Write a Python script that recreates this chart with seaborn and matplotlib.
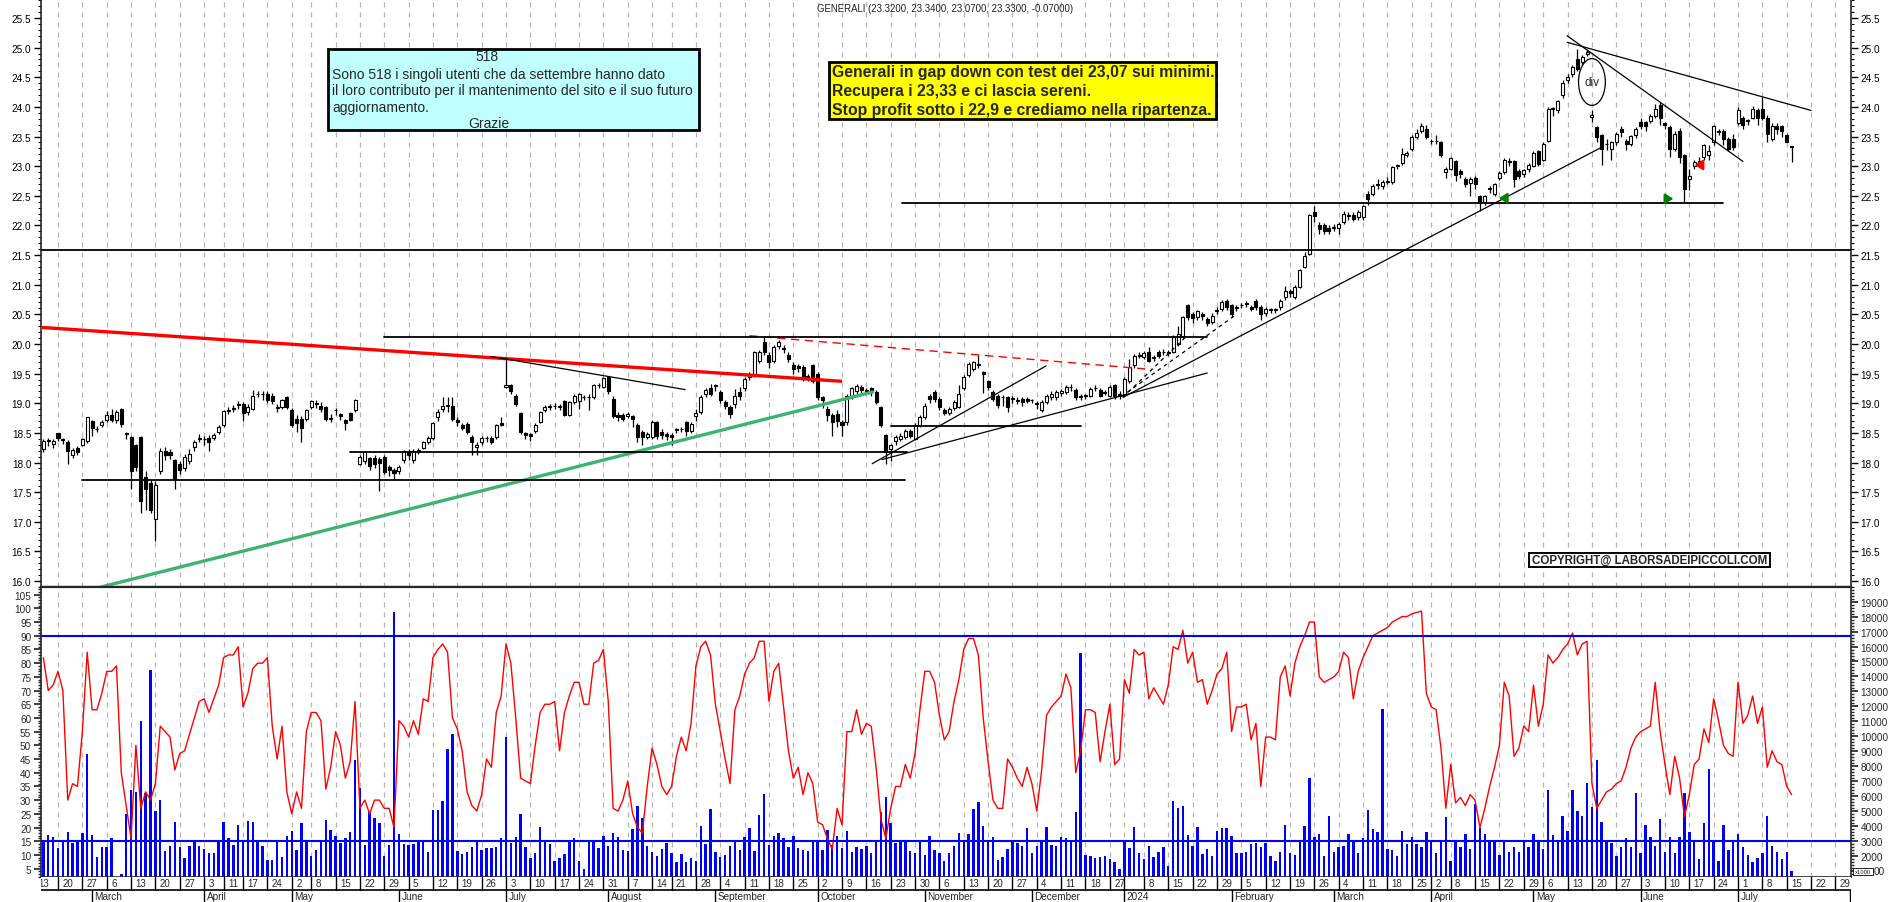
import numpy as np
import pandas as pd
import matplotlib
matplotlib.use("Agg")
import matplotlib.pyplot as plt
import seaborn as sns
from matplotlib.patches import Rectangle, Ellipse
from matplotlib import font_manager

# ---------------- data (daily sessions, first = 2023-02-15) ----------------
first_session = "2023-02-15"
holidays = ["2023-04-07", "2023-04-10", "2023-05-01", "2023-08-15", "2023-12-25",
            "2023-12-26", "2024-01-01", "2024-03-29", "2024-04-01", "2024-05-01"]

opens = [
 18.22, 18.37, 18.31, 18.49, 18.40, 18.35, 18.12, 18.25, 18.30, 18.36,
 18.70, 18.56, 18.63, 18.71, 18.80, 18.71, 18.90, 18.49, 18.43, 18.29,
 18.43, 17.75, 17.65, 17.05, 17.85, 18.20, 18.18, 18.04, 17.98, 17.90,
 18.02, 18.26, 18.40, 18.40, 18.41, 18.42, 18.52, 18.64, 18.87, 18.90,
 18.97, 18.98, 18.85, 18.91, 19.15, 19.16, 19.16, 19.13, 18.92, 18.94,
 19.10, 18.88, 18.74, 18.74, 18.74, 18.94, 19.00, 18.96, 18.94, 18.75,
 18.88, 18.82, 18.71, 18.84, 18.88, 17.98, 18.02, 18.07, 18.07, 18.06,
 18.10, 17.93, 17.88, 17.86, 18.04, 18.18, 18.04, 18.20, 18.25, 18.35,
 18.41, 18.76, 18.90, 18.96, 18.96, 18.72, 18.64, 18.65, 18.43, 18.26,
 18.35, 18.41, 18.42, 18.43, 18.66, 19.28, 19.30, 19.13, 18.83, 18.50,
 18.48, 18.54, 18.68, 18.88, 18.94, 18.95, 18.94, 19.03, 18.80, 19.02,
 19.03, 19.10, 19.10, 19.10, 19.30, 19.27, 19.44, 19.08, 18.80, 18.80,
 18.78, 18.78, 18.63, 18.51, 18.43, 18.43, 18.68, 18.52, 18.48, 18.47,
 18.55, 18.56, 18.68, 18.54, 18.78, 18.85, 19.16, 19.25, 19.29, 19.19,
 19.02, 18.93, 18.99, 19.19, 19.25, 19.44, 19.47, 19.72, 20.03, 19.81,
 19.72, 19.97, 19.93, 19.82, 19.64, 19.63, 19.61, 19.44, 19.64, 19.50,
 19.10, 18.91, 18.80, 18.82, 18.68, 18.68, 19.13, 19.20, 19.27, 19.21,
 19.25, 19.19, 18.94, 18.46, 18.22, 18.36, 18.40, 18.43, 18.53, 18.40,
 18.63, 18.77, 19.12, 19.19, 19.07, 18.88, 18.84, 18.92, 18.94, 19.25,
 19.48, 19.58, 19.66, 19.52, 19.38, 19.19, 19.13, 19.10, 19.10, 19.08,
 19.04, 19.07, 19.07, 19.05, 19.01, 18.88, 19.02, 19.10, 19.10, 19.18,
 19.19, 19.27, 19.22, 19.13, 19.12, 19.13, 19.25, 19.22, 19.18, 19.13,
 19.30, 19.14, 19.16, 19.38, 19.64, 19.80, 19.78, 19.86, 19.77, 19.86,
 19.86, 19.86, 19.86, 20.00, 20.14, 20.65, 20.51, 20.46, 20.50, 20.42,
 20.37, 20.56, 20.59, 20.73, 20.65, 20.61, 20.65, 20.68, 20.62, 20.73,
 20.62, 20.52, 20.57, 20.57, 20.62, 20.79, 20.90, 20.80, 20.96, 21.30,
 21.52, 22.22, 22.01, 22.00, 21.95, 21.96, 21.95, 22.06, 22.16, 22.18,
 22.14, 22.14, 22.53, 22.53, 22.69, 22.66, 22.74, 22.73, 23.00, 23.05,
 23.19, 23.29, 23.49, 23.60, 23.62, 23.43, 23.42, 23.40, 22.90, 22.96,
 23.09, 22.91, 22.78, 22.72, 22.80, 22.49, 22.39, 22.62, 22.53, 22.80,
 22.90, 23.09, 23.08, 22.91, 22.86, 22.95, 23.01, 23.26, 23.11, 23.43,
 23.96, 23.95, 24.20, 24.46, 24.56, 24.81, 24.75, 24.90, 23.83, 23.66,
 23.52, 23.37, 23.29, 23.40, 23.63, 23.43, 23.37, 23.52, 23.75, 23.74,
 23.77, 23.85, 24.03, 23.72, 23.66, 23.29, 23.60, 23.18, 22.78, 23.00,
 23.07, 23.15, 23.19, 23.40, 23.58, 23.60, 23.46, 23.46, 23.73, 23.82,
 23.76, 23.82, 23.95, 23.96, 23.82, 23.46, 23.68, 23.68, 23.52, 23.32]

highs = [
 18.40, 18.42, 18.40, 18.50, 18.42, 18.38, 18.24, 18.28, 18.42, 18.77,
 18.72, 18.61, 18.72, 18.87, 18.90, 18.88, 18.92, 18.52, 18.45, 18.32,
 18.45, 17.85, 17.70, 17.68, 18.25, 18.27, 18.22, 18.06, 18.02, 18.14,
 18.22, 18.38, 18.48, 18.44, 18.46, 18.50, 18.64, 18.89, 18.93, 18.97,
 19.04, 19.02, 18.98, 19.22, 19.20, 19.20, 19.20, 19.17, 18.98, 19.08,
 19.12, 18.92, 18.80, 18.78, 18.91, 19.06, 19.05, 19.02, 18.96, 18.82,
 18.92, 18.84, 18.74, 18.86, 19.08, 18.12, 18.20, 18.10, 18.12, 18.10,
 18.13, 17.96, 17.90, 17.96, 18.21, 18.22, 18.22, 18.24, 18.37, 18.44,
 18.68, 18.90, 19.10, 19.10, 19.10, 18.76, 18.67, 18.68, 18.46, 18.34,
 18.44, 18.45, 18.45, 18.65, 18.77, 19.75, 19.32, 19.16, 18.86, 18.52,
 18.50, 18.66, 18.87, 18.97, 18.98, 19.00, 18.98, 19.05, 19.04, 19.16,
 19.18, 19.14, 19.15, 19.32, 19.34, 19.45, 19.46, 19.12, 18.85, 18.83,
 18.86, 18.80, 18.66, 18.55, 18.52, 18.72, 18.70, 18.56, 18.52, 18.50,
 18.58, 18.60, 18.70, 18.68, 18.90, 19.14, 19.25, 19.33, 19.33, 19.22,
 19.05, 18.97, 19.24, 19.28, 19.44, 19.52, 19.88, 19.90, 20.13, 19.86,
 19.98, 20.07, 19.98, 19.86, 19.70, 19.66, 19.64, 19.50, 19.67, 19.52,
 19.12, 18.95, 18.84, 18.88, 18.72, 19.16, 19.28, 19.32, 19.30, 19.26,
 19.28, 19.22, 18.96, 18.48, 18.32, 18.46, 18.50, 18.56, 18.56, 18.66,
 18.80, 19.00, 19.15, 19.22, 19.10, 18.92, 18.93, 19.05, 19.30, 19.47,
 19.70, 19.72, 19.82, 19.54, 19.40, 19.22, 19.16, 19.14, 19.12, 19.12,
 19.10, 19.10, 19.10, 19.08, 19.03, 19.05, 19.16, 19.20, 19.22, 19.24,
 19.30, 19.32, 19.25, 19.16, 19.16, 19.27, 19.30, 19.25, 19.22, 19.30,
 19.32, 19.20, 19.44, 19.75, 19.83, 19.86, 19.88, 19.95, 19.82, 19.90,
 19.92, 19.90, 20.15, 20.30, 20.48, 20.68, 20.54, 20.58, 20.54, 20.46,
 20.52, 20.62, 20.74, 20.76, 20.68, 20.66, 20.69, 20.72, 20.66, 20.76,
 20.65, 20.62, 20.60, 20.61, 20.76, 20.97, 20.92, 21.00, 21.26, 21.55,
 22.20, 22.33, 22.05, 22.04, 22.00, 22.02, 22.05, 22.25, 22.22, 22.22,
 22.26, 22.35, 22.58, 22.70, 22.78, 22.77, 22.82, 23.00, 23.04, 23.30,
 23.25, 23.52, 23.62, 23.72, 23.70, 23.46, 23.52, 23.42, 22.98, 23.15,
 23.11, 22.95, 22.82, 22.82, 22.84, 22.52, 22.52, 22.66, 22.72, 22.92,
 23.14, 23.14, 23.10, 22.95, 22.96, 23.06, 23.26, 23.28, 23.40, 24.00,
 24.00, 24.12, 24.45, 24.55, 24.70, 24.98, 24.88, 24.98, 23.95, 23.68,
 23.54, 23.45, 23.42, 23.57, 23.67, 23.46, 23.53, 23.66, 23.82, 23.77,
 23.88, 24.05, 24.08, 23.75, 23.70, 23.60, 23.65, 23.20, 22.95, 23.10,
 23.15, 23.38, 23.36, 23.70, 23.62, 23.62, 23.50, 23.55, 24.00, 23.85,
 23.80, 24.02, 23.98, 24.16, 23.86, 23.72, 23.72, 23.70, 23.55, 23.34]

lows = [
 18.18, 18.28, 18.25, 18.36, 18.32, 17.97, 18.08, 18.12, 18.28, 18.33,
 18.45, 18.52, 18.60, 18.68, 18.68, 18.67, 18.60, 18.40, 17.55, 17.85,
 17.15, 17.20, 17.15, 16.68, 17.80, 18.05, 18.06, 17.55, 17.80, 17.85,
 17.98, 18.20, 18.34, 18.30, 18.20, 18.38, 18.48, 18.60, 18.82, 18.85,
 18.90, 18.70, 18.80, 18.88, 19.10, 19.05, 19.00, 18.98, 18.85, 18.90,
 18.90, 18.60, 18.52, 18.35, 18.70, 18.90, 18.92, 18.85, 18.70, 18.68,
 18.80, 18.72, 18.55, 18.70, 18.86, 17.95, 17.98, 17.88, 17.90, 17.52,
 17.80, 17.78, 17.72, 17.80, 18.00, 18.05, 18.00, 18.15, 18.22, 18.32,
 18.38, 18.70, 18.86, 18.85, 18.70, 18.62, 18.55, 18.48, 18.13, 18.12,
 18.30, 18.35, 18.32, 18.40, 18.62, 19.25, 19.15, 18.95, 18.48, 18.40,
 18.36, 18.50, 18.66, 18.85, 18.88, 18.90, 18.88, 18.78, 18.78, 18.98,
 18.90, 19.05, 18.88, 19.08, 19.25, 19.25, 19.15, 18.75, 18.70, 18.70,
 18.75, 18.60, 18.35, 18.30, 18.40, 18.40, 18.40, 18.40, 18.38, 18.30,
 18.50, 18.52, 18.45, 18.50, 18.70, 18.82, 19.10, 19.12, 19.20, 19.00,
 18.90, 18.75, 18.92, 19.05, 19.20, 19.40, 19.45, 19.68, 19.82, 19.60,
 19.68, 19.92, 19.85, 19.70, 19.50, 19.52, 19.38, 19.38, 19.35, 19.05,
 18.92, 18.70, 18.45, 18.60, 18.45, 18.64, 19.08, 19.15, 19.15, 19.16,
 19.12, 18.98, 18.60, 17.98, 18.02, 18.30, 18.36, 18.40, 18.42, 18.38,
 18.60, 18.74, 19.00, 19.02, 18.88, 18.80, 18.80, 18.88, 18.92, 19.22,
 19.45, 19.55, 19.60, 19.18, 19.22, 19.03, 18.92, 18.95, 18.85, 19.00,
 18.98, 18.96, 19.00, 19.00, 18.90, 18.85, 18.98, 19.05, 19.05, 19.12,
 19.15, 19.20, 19.05, 19.05, 19.08, 19.10, 19.20, 19.10, 19.14, 19.10,
 19.08, 19.08, 19.13, 19.35, 19.60, 19.76, 19.74, 19.70, 19.72, 19.76,
 19.82, 19.80, 19.84, 19.96, 20.10, 20.40, 20.35, 20.40, 20.40, 20.30,
 20.33, 20.50, 20.55, 20.58, 20.45, 20.56, 20.60, 20.62, 20.55, 20.58,
 20.40, 20.48, 20.52, 20.53, 20.58, 20.75, 20.80, 20.76, 20.94, 21.28,
 21.50, 22.05, 21.85, 21.85, 21.85, 21.90, 21.85, 22.02, 22.10, 22.08,
 22.10, 22.10, 22.35, 22.50, 22.62, 22.62, 22.70, 22.70, 22.96, 23.02,
 23.15, 23.26, 23.45, 23.56, 23.46, 23.38, 23.38, 23.15, 22.80, 22.93,
 22.75, 22.80, 22.65, 22.50, 22.62, 22.25, 22.35, 22.55, 22.50, 22.76,
 22.86, 23.00, 22.65, 22.78, 22.82, 22.90, 22.98, 23.00, 23.08, 23.40,
 23.85, 23.90, 24.15, 24.40, 24.50, 24.60, 24.70, 24.86, 23.75, 23.40,
 23.02, 23.28, 23.10, 23.36, 23.50, 23.28, 23.34, 23.48, 23.62, 23.60,
 23.72, 23.82, 23.70, 23.62, 23.15, 23.25, 23.05, 22.38, 22.60, 22.95,
 23.02, 23.10, 23.10, 23.35, 23.52, 23.35, 23.25, 23.28, 23.70, 23.62,
 23.70, 23.80, 23.70, 23.78, 23.40, 23.42, 23.55, 23.50, 23.40, 23.07]

closes = [
 18.36, 18.38, 18.36, 18.42, 18.38, 18.19, 18.21, 18.18, 18.39, 18.76,
 18.58, 18.57, 18.68, 18.81, 18.72, 18.86, 18.65, 18.48, 17.85, 17.93,
 17.35, 17.55, 17.20, 17.62, 18.20, 18.13, 18.12, 17.73, 17.88, 18.10,
 18.15, 18.35, 18.41, 18.39, 18.34, 18.47, 18.60, 18.87, 18.88, 18.92,
 18.98, 18.83, 18.93, 19.13, 19.16, 19.15, 19.05, 19.04, 18.94, 19.05,
 18.94, 18.63, 18.67, 18.58, 18.88, 19.03, 18.98, 18.90, 18.73, 18.73,
 18.88, 18.78, 18.66, 18.72, 19.05, 18.10, 18.17, 17.94, 17.98, 18.00,
 17.84, 17.87, 17.82, 17.93, 18.19, 18.12, 18.20, 18.20, 18.35, 18.41,
 18.66, 18.85, 18.96, 18.96, 18.74, 18.69, 18.58, 18.52, 18.35, 18.30,
 18.41, 18.41, 18.35, 18.63, 18.64, 19.30, 19.20, 18.98, 18.52, 18.46,
 18.45, 18.63, 18.85, 18.94, 18.94, 18.95, 18.94, 18.80, 19.02, 19.13,
 19.15, 19.10, 19.11, 19.30, 19.30, 19.43, 19.20, 18.78, 18.76, 18.74,
 18.82, 18.74, 18.43, 18.43, 18.48, 18.68, 18.45, 18.47, 18.44, 18.43,
 18.55, 18.57, 18.54, 18.65, 18.84, 19.11, 19.22, 19.16, 19.30, 19.05,
 18.96, 18.82, 19.13, 19.13, 19.41, 19.48, 19.86, 19.86, 19.86, 19.70,
 19.95, 20.03, 19.91, 19.75, 19.58, 19.60, 19.41, 19.46, 19.38, 19.10,
 19.06, 18.81, 18.68, 18.70, 18.63, 19.13, 19.25, 19.29, 19.22, 19.22,
 19.19, 19.02, 18.63, 18.18, 18.29, 18.43, 18.45, 18.53, 18.45, 18.63,
 18.77, 18.96, 19.08, 19.07, 18.94, 18.84, 18.90, 19.02, 19.16, 19.44,
 19.67, 19.69, 19.64, 19.50, 19.27, 19.07, 18.97, 19.10, 18.94, 19.08,
 19.06, 19.02, 19.04, 19.05, 18.99, 19.02, 19.13, 19.16, 19.19, 19.20,
 19.27, 19.28, 19.10, 19.10, 19.13, 19.24, 19.26, 19.13, 19.19, 19.27,
 19.13, 19.15, 19.41, 19.61, 19.80, 19.82, 19.84, 19.72, 19.78, 19.80,
 19.87, 19.84, 20.12, 20.17, 20.45, 20.45, 20.43, 20.55, 20.47, 20.35,
 20.48, 20.58, 20.71, 20.62, 20.51, 20.62, 20.65, 20.68, 20.59, 20.62,
 20.51, 20.59, 20.57, 20.57, 20.73, 20.90, 20.86, 20.96, 21.24, 21.49,
 22.17, 22.16, 21.94, 21.91, 21.90, 21.98, 22.02, 22.20, 22.17, 22.11,
 22.23, 22.32, 22.45, 22.67, 22.70, 22.74, 22.75, 22.98, 23.01, 23.20,
 23.22, 23.49, 23.56, 23.68, 23.49, 23.42, 23.42, 23.18, 22.95, 23.13,
 22.85, 22.86, 22.70, 22.78, 22.70, 22.39, 22.49, 22.63, 22.70, 22.88,
 23.11, 23.07, 22.79, 22.84, 22.93, 23.02, 23.23, 23.04, 23.37, 23.97,
 23.98, 24.10, 24.41, 24.50, 24.67, 24.64, 24.84, 24.92, 23.86, 23.49,
 23.29, 23.37, 23.40, 23.54, 23.57, 23.37, 23.51, 23.63, 23.67, 23.67,
 23.85, 23.97, 23.81, 23.69, 23.29, 23.55, 23.15, 22.62, 22.83, 23.07,
 23.08, 23.35, 23.25, 23.68, 23.58, 23.46, 23.29, 23.32, 23.94, 23.70,
 23.77, 23.97, 23.82, 23.82, 23.54, 23.68, 23.62, 23.60, 23.40, 23.33]

volume_k = [
 3.0, 3.4, 3.3, 2.55, 2.93, 3.6, 2.9, 3.0, 3.55, 8.8,
 3.4, 1.93, 2.6, 2.6, 3.2, 0.6, 0.8, 4.8, 6.4, 6.3,
 11.0, 6.2, 14.45, 5.0, 5.75, 2.35, 2.7, 4.3, 2.6, 1.9,
 2.7, 3.0, 2.7, 2.5, 2.2, 2.2, 3.0, 4.26, 3.2, 2.77,
 4.09, 2.93, 4.37, 4.26, 3.0, 2.7, 1.77, 1.77, 3.08, 1.97,
 3.37, 3.71, 2.44, 4.22, 3.0, 2.0, 2.42, 3.08, 4.4, 3.73,
 3.33, 2.86, 3.2, 3.64, 8.42, 6.53, 2.77, 4.93, 4.57, 4.22,
 2.0, 2.77, 18.28, 3.48, 2.8, 2.75, 2.8, 2.95, 2.97, 2.28,
 5.06, 5.06, 5.7, 9.16, 10.18, 2.33, 2.15, 2.28, 2.6, 3.08,
 2.42, 2.53, 2.53, 2.6, 3.22, 9.94, 2.86, 3.3, 4.82, 2.6,
 1.9, 2.2, 3.95, 3.08, 2.82, 1.66, 1.86, 2.17, 3.0, 3.2,
 1.66, 1.17, 2.93, 3.08, 2.55, 3.37, 2.66, 3.55, 3.3, 2.42,
 2.35, 3.8, 5.33, 4.53, 2.71, 2.26, 2.04, 2.48, 2.86, 2.2,
 1.6, 2.15, 1.6, 1.86, 1.7, 4.0, 2.82, 5.15, 2.26, 1.93,
 2.08, 2.66, 3.0, 2.42, 3.26, 3.86, 2.33, 4.75, 6.15, 2.75,
 3.35, 3.53, 3.2, 2.6, 3.35, 2.53, 2.44, 2.37, 3.06, 3.1,
 2.42, 3.75, 2.75, 3.37, 2.53, 3.68, 2.28, 2.64, 2.48, 2.7,
 2.2, 3.08, 4.93, 5.93, 4.2, 2.86, 2.97, 3.1, 2.37, 2.2,
 3.0, 2.1, 3.37, 2.44, 2.2, 1.66, 2.2, 2.7, 3.53, 2.93,
 3.46, 5.15, 5.6, 4.02, 2.97, 3.26, 1.75, 1.93, 2.48, 3.06,
 2.86, 2.7, 3.86, 2.24, 2.7, 3.04, 3.95, 2.75, 2.7, 3.3,
 3.2, 2.97, 4.93, 15.56, 2.1, 2.04, 1.86, 1.97, 2.0, 1.8,
 1.64, 1.13, 2.97, 2.53, 3.95, 2.2, 1.8, 2.7, 1.97, 2.26,
 2.6, 1.33, 5.66, 5.2, 5.33, 3.42, 2.7, 3.95, 2.15, 2.48,
 2.04, 3.66, 3.86, 3.86, 3.37, 2.2, 2.2, 2.26, 2.8, 2.9,
 2.6, 2.9, 2.0, 1.7, 2.3, 4.1, 2.2, 2.1, 3.0, 4.0,
 7.2, 3.3, 3.5, 2.0, 4.7, 2.3, 2.6, 2.7, 3.5, 3.1,
 2.2, 3.2, 5.1, 3.8, 3.6, 11.8, 2.5, 2.4, 2.0, 3.7,
 2.8, 3.3, 2.8, 2.6, 3.6, 3.0, 2.2, 3.0, 4.6, 1.7,
 3.1, 2.6, 3.5, 2.5, 5.5, 3.9, 3.5, 3.1, 3.0, 2.1,
 3.1, 2.3, 2.6, 2.3, 3.1, 2.6, 3.5, 3.0, 2.5, 6.4,
 3.4, 3.1, 4.7, 3.7, 6.4, 5.0, 4.7, 6.9, 5.3, 8.4,
 4.3, 3.1, 2.9, 2.0, 2.6, 3.2, 2.6, 6.2, 2.2, 4.1,
 3.3, 2.7, 4.5, 2.3, 3.3, 2.2, 3.3, 6.2, 3.6, 3.1,
 1.8, 4.2, 7.8, 3.0, 1.7, 4.1, 2.4, 3.1, 3.5, 2.6,
 2.1, 1.6, 1.9, 2.2, 4.7, 2.7, 2.3, 1.8, 2.3, 1.0]

oscillator = [
 82, 70, 72, 77, 70, 30, 36, 35, 55, 84,
 63, 63, 69, 77, 77, 79, 40, 28, 16, 50,
 27, 33, 30, 36, 57, 55, 53, 41, 47, 48,
 54, 60, 66, 67, 62, 67, 72, 82, 83, 83,
 86, 64, 69, 78, 80, 80, 82, 57, 45, 57,
 33, 25, 33, 27, 55, 62, 62, 59, 34, 42,
 55, 50, 38, 44, 66, 27, 30, 25, 30, 30,
 27, 27, 20, 59, 57, 53, 59, 54, 67, 66,
 82, 85, 87, 84, 60, 56, 48, 33, 28, 26,
 32, 45, 42, 62, 68, 87, 80, 60, 38, 37,
 36, 50, 62, 65, 65, 66, 48, 62, 68, 73,
 73, 65, 65, 80, 81, 85, 66, 27, 26, 30,
 37, 25, 20, 18, 35, 49, 43, 35, 32, 35,
 46, 53, 48, 58, 79, 86, 88, 83, 65, 55,
 45, 36, 63, 68, 76, 80, 82, 88, 88, 66,
 77, 80, 64, 48, 38, 42, 32, 40, 36, 22,
 21, 16, 12, 27, 21, 55, 55, 63, 54, 58,
 57, 42, 23, 16, 27, 35, 35, 43, 38, 47,
 63, 77, 77, 73, 61, 52, 55, 66, 74, 85,
 89, 89, 83, 60, 44, 30, 27, 27, 45, 42,
 38, 35, 42, 36, 26, 41, 61, 64, 66, 68,
 76, 71, 40, 48, 63, 63, 62, 44, 55, 65,
 43, 45, 74, 69, 85, 83, 84, 67, 71, 68,
 65, 72, 86, 85, 92, 80, 84, 73, 74, 65,
 70, 76, 78, 84, 55, 64, 64, 65, 52, 58,
 35, 53, 53, 52, 75, 79, 68, 80, 86, 90,
 95, 95, 75, 73, 74, 75, 77, 84, 82, 67,
 77, 82, 86, 90, 91, 92, 93, 95, 96, 97,
 97, 98, 98.5, 99, 69, 64, 63, 49, 27, 43,
 29, 31, 28, 32, 30, 20, 27, 35, 42, 50,
 73, 68, 46, 49, 57, 55, 72, 57, 65, 83,
 80, 82, 85, 87, 91, 83, 87, 88, 36, 27,
 30, 33, 34, 36, 37, 42, 49, 53, 55, 56,
 57, 73, 55, 43, 32, 46, 38, 24, 32, 43,
 45, 56, 51, 67, 59, 50, 47, 46, 73, 58,
 61, 68, 58, 64, 42, 48, 44, 43, 35, 32]

osc_levels = [90, 15]
title_text = "GENERALI (23.3200, 23.3400, 23.0700, 23.3300, -0.07000)"
box_cyan = ["518",
            "Sono 518 i singoli utenti che da settembre hanno dato",
            "il loro contributo per il mantenimento del sito e il suo futuro",
            "aggiornamento.",
            "Grazie"]
box_yellow = ["Generali in gap down con test dei 23,07 sui minimi.",
              "Recupera i 23,33 e ci lascia sereni.",
              "Stop profit sotto i 22,9 e crediamo nella ripartenza."]
copyright_text = "COPYRIGHT@ LABORSADEIPICCOLI.COM"

# drawn study lines (session index counted from 2023-02-20, price)
red_trend = [(-3.5, 20.28), (161, 19.37)]
red_dashed = [(142, 20.14), (224.6, 19.57)]
green_trend = [(5, 15.82), (167.3, 19.19)]
h_lines = [(-3.5, 370, 21.58), (67, 236, 20.11), (60, 174.3, 18.18), (5, 174, 17.70),
           (171, 210, 18.61), (173.3, 341.9, 22.37)]
thin_lines = [[(88.9, 19.79), (128.8, 19.23)], [(167.2, 17.98), (202.9, 19.63)],
              [(169.2, 18.05), (236, 19.51)], [(218.7, 19.10), (316.8, 23.31)],
              [(309.9, 25.20), (346, 23.08)], [(309.9, 25.09), (360, 23.94)]]
dashed_lines = [[(218.3, 19.11), (241.7, 20.48)], [(218.7, 19.10), (231.6, 20.12)]]

# ---------------- style ----------------
sns.set_theme(style="white")
names = {f.name for f in font_manager.fontManager.ttflist}
BASE = "Liberation Sans" if "Liberation Sans" in names else "DejaVu Sans"
plt.rcParams["font.family"] = [BASE, "DejaVu Sans"]
plt.rcParams["axes.linewidth"] = 1.2

W, H = 1890, 903
def fx(px): return px / W
def fy(py): return 1 - py / H

n = len(closes)
idx = np.arange(n)
o = np.array(opens); hi = np.array(highs); lo = np.array(lows); c = np.array(closes)

# calendar
sessions = pd.bdate_range("2023-02-13", "2024-08-09")
sessions = sessions[~sessions.isin(pd.to_datetime(holidays))]
start = sessions.get_loc(pd.Timestamp(first_session))
pos = np.arange(len(sessions)) - start
D0 = pos[sessions.get_loc(pd.Timestamp("2023-02-20"))]

week_pos, week_day = [], []
prev = None
for k, day in enumerate(sessions):
    key = tuple(day.isocalendar()[:2])
    if key != prev:
        week_pos.append(pos[k]); week_day.append(day); prev = key
month_pos, month_lab = [], []
prevm = None
for k, day in enumerate(sessions):
    km = (day.year, day.month)
    if km != prevm:
        month_pos.append(pos[k])
        month_lab.append(str(day.year) if day.month == 1 else day.strftime("%B"))
        prevm = km

XL = (-0.49, 371.2)
L, R = 41, 1851

fig = plt.figure(figsize=(18.9, 9.03), dpi=100)
fig.patch.set_facecolor("white")
ax = fig.add_axes([fx(L), fy(588), fx(R) - fx(L), 588 / H])
axv = fig.add_axes([fx(L), fy(878), fx(R) - fx(L), 290 / H])
axo = fig.add_axes([fx(L), fy(878), fx(R) - fx(L), 290 / H])
axd = fig.add_axes([fx(L), 0, fx(R) - fx(L), 25 / H])
axo.patch.set_visible(False)
for a in (ax, axv, axo, axd):
    a.set_xlim(*XL)
    a.set_xticks([])
    a.set_facecolor("white")

grid_kw = dict(color="#b4b4b4", lw=0.9, ls=(0, (4, 4)), zorder=0)
for p in week_pos:
    if XL[0] < p < XL[1]:
        ax.axvline(p, **grid_kw)
        axv.axvline(p, **grid_kw)

# ---- candles ----
up = c >= o
ax.vlines(idx, lo, hi, color="black", lw=0.9, zorder=3)
ax.bar(idx, np.maximum(np.abs(c - o), 0.012), bottom=np.minimum(o, c), width=0.62,
       color=np.where(up, "white", "black"), edgecolor="black", linewidth=0.8, zorder=4)

def seg(a, pts, **kw):
    xs = [p[0] + D0 for p in pts]; ys = [p[1] for p in pts]
    a.plot(xs, ys, **kw)

seg(ax, red_trend, color="#ff0000", lw=2.4, zorder=5, solid_capstyle="butt")
seg(ax, red_dashed, color="#ff0000", lw=1.0, ls=(0, (6, 4)), zorder=5)
seg(ax, green_trend, color="#3cb371", lw=2.4, zorder=5)
for x0, x1, yv in h_lines:
    ax.plot([x0 + D0, x1 + D0], [yv, yv], color="black", lw=1.3, zorder=5)
for pts in thin_lines:
    seg(ax, pts, color="black", lw=0.9, zorder=5)
for pts in dashed_lines:
    seg(ax, pts, color="black", lw=0.9, ls=(0, (3, 3)), zorder=5)

ax.add_patch(Ellipse((315 + D0, 24.42), 5.5, 0.79, fill=False, edgecolor="black", lw=0.9, zorder=6))
ax.text(315 + D0, 24.42, "div", ha="center", va="center", fontsize=8.5, zorder=7)
def arrow(x0, x1, yv, col):
    ax.annotate("", xy=(x1 + D0, yv), xytext=(x0 + D0, yv),
                arrowprops=dict(arrowstyle="-|>,head_width=0.25,head_length=0.4", color=col, lw=1.6),
                zorder=7)
arrow(298.2, 295.3, 22.46, "#008000")
arrow(329.4, 332.3, 22.45, "#008000")
arrow(338.0, 335.5, 23.02, "#ff0000")

ax.set_ylim(15.905, 25.82)
ax.set_yticks(np.arange(16.0, 25.51, 0.5))
ax.set_yticklabels([f"{v:.1f}" for v in np.arange(16.0, 25.51, 0.5)])
ax.set_yticks(np.arange(15.9, 25.81, 0.1), minor=True)
ax.tick_params(axis="y", which="both", left=True, right=True, labelleft=True, labelright=True,
               direction="out", labelsize=7.2, pad=2, colors="black")
ax.tick_params(axis="y", which="major", length=5, width=1)
ax.tick_params(axis="y", which="minor", length=2.5, width=0.8)
ax.spines["top"].set_visible(False)
ax.spines["bottom"].set_linewidth(1.6)

# ---- lower panel ----
axv.bar(idx, np.array(volume_k) * 1000, width=0.5, color="#0000ff", zorder=2,
        antialiased=False, linewidth=0)
axv.set_ylim(614, 19973)
axv.yaxis.tick_right()
vt = np.arange(1000, 19001, 1000)
axv.set_yticks(vt)
axv.set_yticklabels([""] + [str(v) for v in vt[1:]])
axv.set_yticks(np.arange(800, 19973, 200), minor=True)
axv.tick_params(axis="y", which="both", direction="out", labelsize=7.2, pad=2, right=True, left=False)
axv.tick_params(axis="y", which="major", length=5)
axv.tick_params(axis="y", which="minor", length=2)

sns.lineplot(x=idx, y=np.array(oscillator, dtype=float), ax=axo, color="#ff0000", lw=1.0, zorder=4)
for lv in osc_levels:
    axo.axhline(lv, color="#0000ff", lw=1.5, zorder=5)
axo.set_ylim(1.93, 107.8)
axo.set_yticks(np.arange(5, 106, 5))
axo.set_yticks(np.arange(2, 108, 1), minor=True)
axo.tick_params(axis="y", which="both", direction="out", labelsize=7.2, pad=2, left=True, right=False)
axo.tick_params(axis="y", which="major", length=5)
axo.tick_params(axis="y", which="minor", length=2)
axo.set_ylabel(""); axo.set_xlabel("")
axo.set_xlim(*XL)
for s in ("top", "bottom", "left", "right"):
    axv.spines[s].set_visible(s == "right")
axo.spines["right"].set_visible(False)
axo.spines["top"].set_linewidth(1.6)

# ---- date rows ----
axd.set_ylim(0, 25)
for s in axd.spines.values():
    s.set_visible(False)
axd.set_yticks([])
axd.axhline(12, color="black", lw=1.2)
for p, day in zip(week_pos, week_day):
    if p > XL[0]:
        axd.plot([p, p], [12, 25], color="black", lw=1.0)
    if day.month == 1 and day.day <= 2:
        continue
    t = axd.text(p + 0.9, 18.5, str(day.day), ha="left", va="center", fontsize=7)
    t.set_clip_on(True)
    t.set_clip_box(axd.bbox)
for p, lab in zip(month_pos, month_lab):
    if p < XL[0]:
        continue
    axd.plot([p, p], [0, 12], color="black", lw=1.0)
    axd.text(p + 0.5, 5.8, lab, ha="left", va="center", fontsize=7.2, clip_on=True)

# ---- text boxes ----
fig.text(fx(945), fy(9), title_text, ha="center", va="center", fontsize=6.9, color="#202020")
fig.add_artist(Rectangle((fx(328), fy(131)), fx(699) - fx(328), 81 / H, transform=fig.transFigure,
                         facecolor="#c0ffff", edgecolor="black", lw=2, zorder=5))
fig.text(fx(487), fy(57), box_cyan[0], ha="center", va="center", fontsize=10, zorder=6)
for yy, line in zip([75, 91, 108], box_cyan[1:4]):
    fig.text(fx(332), fy(yy), line, ha="left", va="center", fontsize=10, zorder=6)
fig.text(fx(489), fy(124), box_cyan[4], ha="center", va="center", fontsize=10, zorder=6)

fig.add_artist(Rectangle((fx(829), fy(120)), fx(1216) - fx(829), 57 / H, transform=fig.transFigure,
                         facecolor="#ffff00", edgecolor="black", lw=2, zorder=5))
for yy, line in zip([72.5, 91.5, 110.5], box_yellow):
    fig.text(fx(832), fy(yy), line, ha="left", va="center", fontsize=11.3, fontweight="bold", zorder=6)

fig.add_artist(Rectangle((fx(1529), fy(567.5)), fx(1770) - fx(1529), 13.5 / H, transform=fig.transFigure,
                         facecolor="white", edgecolor="black", lw=1.4, zorder=5))
fig.text(fx(1649.5), fy(560.8), copyright_text, ha="center", va="center", fontsize=8.3,
         fontweight="bold", zorder=6)

fig.add_artist(Rectangle((fx(1853), fy(876)), 20 / W, 7 / H, transform=fig.transFigure,
                         facecolor="white", edgecolor="black", lw=0.6, zorder=5))
fig.text(fx(1863), fy(872.5), "x1000", ha="center", va="center", fontsize=4.2, zorder=6)
fig.text(fx(1874), fy(872.5), "00", ha="left", va="center", fontsize=7.2, zorder=6)

fig.savefig("out.png", dpi=100)
